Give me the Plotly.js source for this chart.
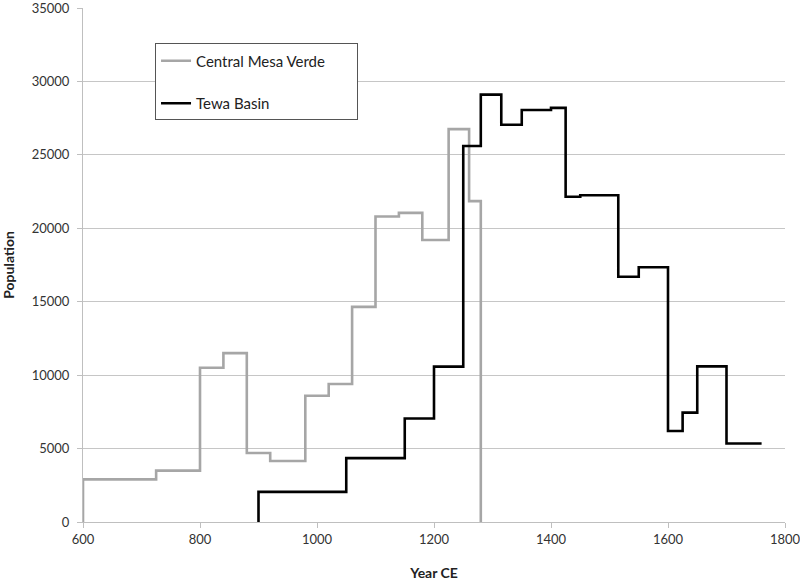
<!DOCTYPE html>
<html>
<head>
<meta charset="utf-8">
<script src="https://cdn.plot.ly/plotly-3.0.1.min.js"></script>
<style>html,body{margin:0;padding:0;background:#fff;}#chart{width:800px;height:582px;}</style>
</head>
<body>
<div id="chart"></div>
<script>
// Central Mesa Verde: step start years and populations
var mesaYears = [600, 600, 725, 800, 840, 880, 920, 980, 1020, 1060, 1100, 1140, 1180, 1225, 1260, 1280];
var mesaPop   = [0, 2900, 3500, 10500, 11500, 4700, 4150, 8600, 9400, 14650, 20800, 21050, 19200, 26750, 21850, 0];

// Tewa Basin
var tewaYears = [900, 900, 1050, 1150, 1200, 1250, 1280, 1315, 1350, 1400, 1425, 1450, 1515, 1550, 1600, 1625, 1650, 1700, 1760];
var tewaPop   = [0, 2050, 4350, 7050, 10580, 25600, 29100, 27050, 28050, 28200, 22150, 22250, 16700, 17350, 6200, 7450, 10600, 5350, 5350];

var seriesNames = ['Central Mesa Verde', 'Tewa Basin'];

var xTicks = [600, 800, 1000, 1200, 1400, 1600, 1800];
var yTicks = [0, 5000, 10000, 15000, 20000, 25000, 30000, 35000];

var FONT = 'Lato, "Open Sans", sans-serif';
var PAD = '\u00a0\u00a0\u00a0\u00a0\u00a0\u00a0\u00a0';

var traces = [
  {x: mesaYears, y: mesaPop, type: 'scatter', mode: 'lines', line: {shape: 'hv', color: '#a6a6a6', width: 2.6},
   name: seriesNames[0] + PAD, legendgroup: 'a'},
  {x: tewaYears, y: tewaPop, type: 'scatter', mode: 'lines', line: {shape: 'hv', color: '#000000', width: 2.6},
   name: seriesNames[1], legendgroup: 'b'}
];

var layout = {
  width: 800, height: 582,
  margin: {l: 83, r: 15, t: 8, b: 60},
  paper_bgcolor: '#ffffff', plot_bgcolor: '#ffffff',
  font: {family: FONT, color: '#333333', size: 13},
  showlegend: true,
  legend: {
    x: 0.1026, y: 0.931, xanchor: 'left', yanchor: 'top',
    bgcolor: '#ffffff', bordercolor: '#555555', borderwidth: 1,
    font: {family: FONT, size: 15, color: '#222222'},
    traceorder: 'grouped', tracegroupgap: 20, itemwidth: 30
  },
  xaxis: {
    range: [600, 1800], tickvals: xTicks, ticktext: xTicks.map(String),
    showgrid: false, zeroline: false, showline: true, linecolor: '#bfbfbf', linewidth: 1,
    ticks: 'outside', ticklen: 5, tickcolor: '#bfbfbf', ticklabeloverflow: 'allow',
    tickfont: {family: FONT, size: 13, color: '#333333'},
    title: {text: '<b>Year CE</b>', font: {family: FONT, size: 14, color: '#222222'}, standoff: 22}
  },
  yaxis: {
    range: [0, 35000], tickvals: yTicks, ticktext: yTicks.map(String),
    showgrid: true, gridcolor: '#c6c6c6', gridwidth: 1, zeroline: false,
    showline: true, linecolor: '#bfbfbf', linewidth: 1,
    ticks: 'outside', ticklen: 5, tickcolor: '#bfbfbf', ticklabeloverflow: 'allow',
    ticklabelstandoff: 5,
    tickfont: {family: FONT, size: 13, color: '#333333'},
    title: {text: '<b>Population</b>', font: {family: FONT, size: 14, color: '#222222'}, standoff: 16}
  }
};

Plotly.newPlot('chart', traces, layout, {staticPlot: true, displayModeBar: false});
</script>
</body>
</html>
